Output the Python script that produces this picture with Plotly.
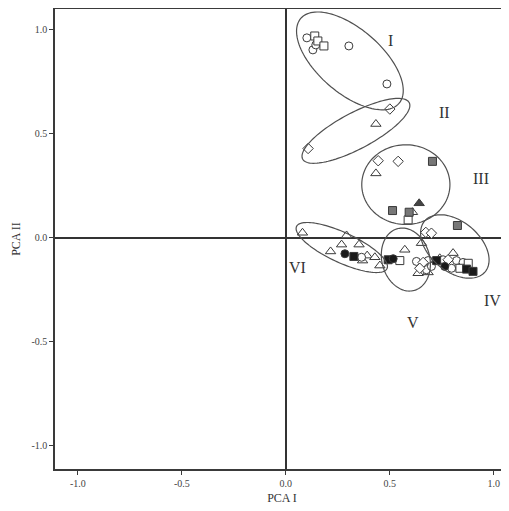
import numpy as np
import plotly.graph_objects as go

# ---- data (PCA scores) ----
circle_x = [0.101, 0.130, 0.144, 0.303, 0.486, 0.364, 0.628, 0.684, 0.676, 0.756, 0.821, 0.797, 0.852, 0.700]
circle_y = [0.962, 0.904, 0.928, 0.923, 0.740, -0.095, -0.115, -0.111, -0.155, -0.107, -0.111, -0.148, -0.120, -0.139]

square_x = [0.139, 0.154, 0.183, 0.588, 0.548, 0.837, 0.877]
square_y = [0.971, 0.947, 0.923, 0.085, -0.111, -0.148, -0.124]

diamond_x = [0.500, 0.107, 0.444, 0.540, 0.673, 0.700, 0.660, 0.644, 0.780]
diamond_y = [0.619, 0.429, 0.370, 0.367, 0.025, 0.021, -0.120, -0.148, -0.107]

triangle_x = [0.433, 0.433, 0.609, 0.080, 0.292, 0.268, 0.352, 0.215, 0.391, 0.428, 0.369, 0.452,
              0.572, 0.652, 0.636, 0.684, 0.804, 0.740]
triangle_y = [0.547, 0.309, 0.122, 0.023, 0.010, -0.034, -0.034, -0.067, -0.087, -0.095, -0.111, -0.135,
              -0.059, -0.027, -0.172, -0.168, -0.075, -0.100]

gray_square_x = [0.705, 0.513, 0.593, 0.825]
gray_square_y = [0.367, 0.130, 0.122, 0.058]

dark_triangle_x = [0.641]
dark_triangle_y = [0.165]

black_square_x = [0.327, 0.492, 0.725, 0.869, 0.900]
black_square_y = [-0.091, -0.107, -0.111, -0.152, -0.163]

black_circle_x = [0.284, 0.516, 0.764]
black_circle_y = [-0.078, -0.102, -0.139]

# cluster ellipses: centre x, centre y, semi-major, semi-minor, angle (deg)
ellipse_names = ["I", "II", "III", "IV", "V", "VI"]
ellipse_cx = [0.308, 0.337, 0.577, 0.8125, 0.577, 0.269]
ellipse_cy = [0.851, 0.514, 0.255, -0.043, -0.106, -0.048]
ellipse_a = [0.3125, 0.29, 0.212, 0.19, 0.154, 0.24]
ellipse_b = [0.154, 0.087, 0.192, 0.12, 0.115, 0.072]
ellipse_angle = [-41, 28, 0, -40, -75, -25]

# cluster labels
label_text = ["I", "II", "III", "IV", "V", "VI"]
label_x = [0.505, 0.764, 0.9375, 0.995, 0.611, 0.058]
label_y = [0.947, 0.601, 0.284, -0.303, -0.409, -0.144]

tick_vals = [-1.0, -0.5, 0.0, 0.5, 1.0]
tick_text = ["-1.0", "-0.5", "0.0", "0.5", "1.0"]

# ---- figure ----
fig = go.Figure()
edge = "#3a3a3a"
ms = 8

def add(xs, ys, symbol, fill, size=ms):
    fig.add_trace(go.Scatter(
        x=xs, y=ys, mode="markers",
        marker=dict(symbol=symbol, size=size, color=fill,
                    line=dict(color=edge, width=1)),
        showlegend=False, hoverinfo="skip"))

add(triangle_x, triangle_y, "triangle-up", "white", 9)
add(circle_x, circle_y, "circle", "white")
add(diamond_x, diamond_y, "diamond", "white", 8)
add(square_x, square_y, "square", "white")
add(gray_square_x, gray_square_y, "square", "#777777")
add(dark_triangle_x, dark_triangle_y, "triangle-up", "#444444", 9)
add(black_square_x, black_square_y, "square", "#1a1a1a")
add(black_circle_x, black_circle_y, "circle", "#1a1a1a")

t = np.linspace(0, 2 * np.pi, 120)
for cx, cy, a, b, ang in zip(ellipse_cx, ellipse_cy, ellipse_a, ellipse_b, ellipse_angle):
    th = np.deg2rad(ang)
    ex = cx + a * np.cos(t) * np.cos(th) - b * np.sin(t) * np.sin(th)
    ey = cy + a * np.cos(t) * np.sin(th) + b * np.sin(t) * np.cos(th)
    path = "M " + " L ".join(f"{px:.4f},{py:.4f}" for px, py in zip(ex, ey)) + " Z"
    fig.add_shape(type="path", path=path, xref="x", yref="y",
                  line=dict(color="#505050", width=1.2))

for txt, lx, ly in zip(label_text, label_x, label_y):
    fig.add_annotation(x=lx, y=ly, text=txt, showarrow=False,
                       font=dict(family="Liberation Serif", size=16, color="#333333"))

fig.update_xaxes(range=[-1.11, 1.073], tickvals=tick_vals, ticktext=tick_text,
                 automargin=False,
                 showline=True, linecolor=edge, linewidth=1.5, mirror=True,
                 ticks="outside", ticklen=4, tickcolor=edge,
                 showgrid=False, zeroline=True, zerolinecolor="#333333", zerolinewidth=1.5,
                 tickfont=dict(family="Liberation Serif", size=10, color="#444444"),
                 title=dict(text="PCA I", font=dict(family="Liberation Serif", size=12, color="#333333"),
                            standoff=6))
fig.update_yaxes(range=[-1.115, 1.101], tickvals=tick_vals, ticktext=tick_text,
                 automargin=False,
                 showline=True, linecolor=edge, linewidth=1.5, mirror=False,
                 ticks="outside", ticklen=4, tickcolor=edge,
                 showgrid=False, zeroline=True, zerolinecolor="#333333", zerolinewidth=1.5,
                 tickfont=dict(family="Liberation Serif", size=10, color="#444444"),
                 title=dict(text="PCA II", font=dict(family="Liberation Serif", size=12, color="#333333"),
                            standoff=8))

# the page body adds an 8 px offset, so the figure is sized/margined to compensate
fig.update_layout(width=501, height=503, margin=dict(l=47, r=0, t=1, b=42),
                  plot_bgcolor="white", paper_bgcolor="white")

fig.write_html("out.html")
